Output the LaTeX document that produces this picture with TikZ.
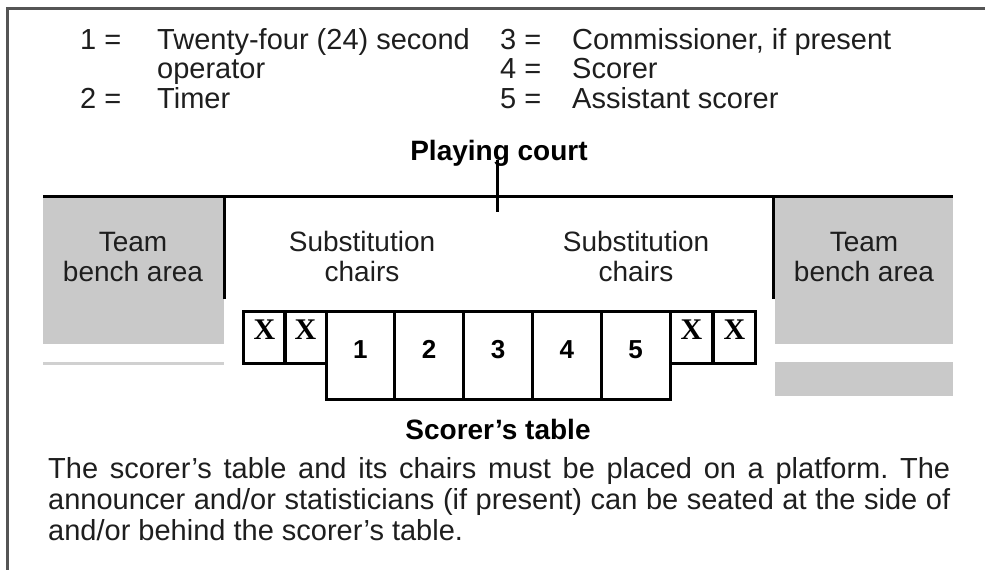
\documentclass[tikz,border=0pt]{standalone}
\usepackage{fontspec}
\setmainfont{Liberation Sans}
\newfontfamily\xserif{Liberation Serif}
\definecolor{benchgray}{HTML}{C9C9C9}
\definecolor{lightline}{HTML}{D0D0D0}
\definecolor{framegray}{HTML}{555555}
\definecolor{inkcol}{HTML}{1E1E1E}
\frenchspacing
\begin{document}
\begin{tikzpicture}[x=1pt,y=-1pt,
  legendtxt/.style={anchor=base west, inner sep=0, text=inkcol, font=\fontsize{29}{34}\selectfont},
  arealbl/.style={anchor=base, inner sep=0, text=inkcol, font=\fontsize{28}{30}\selectfont},
  titlelbl/.style={anchor=base, inner sep=0, text=black, font=\fontsize{28}{30}\selectfont\bfseries},
  numlbl/.style={anchor=base, inner sep=0, text=black, font=\fontsize{26}{28}\selectfont\bfseries},
  xlbl/.style={anchor=base, inner sep=0, text=black, font=\fontsize{30}{30}\xserif\bfseries},
  bodytxt/.style={anchor=base west, inner sep=0, text=inkcol, font=\fontsize{29}{31}\selectfont},
  thick line/.style={line width=3pt, black},
  tablecell/.style={draw=black, line width=3pt, minimum width=68.8pt, minimum height=88pt, inner sep=0, outer sep=0},
  xcell/.style={draw=black, line width=3pt, minimum width=41.5pt, minimum height=52pt, inner sep=0, outer sep=0}
]
\useasboundingbox (0,0) rectangle (985,570);
\fill[white] (0,0) rectangle (985,570);
% frame
\draw[framegray, line width=3pt] (7,570) -- (7,8.5) -- (985,8.5);

% legend
\node[legendtxt] (l1n) at (80,49) {1 =};
\node[legendtxt] (l1t) at (157,49) {Twenty-four (24) second};
\node[legendtxt] (l1b) at (157,78) {operator};
\node[legendtxt] (l2n) at (80,108) {2 =};
\node[legendtxt] (l2t) at (157,108) {Timer};
\node[legendtxt] (l3n) at (500,49) {3 =};
\node[legendtxt] (l3t) at (572,49) {Commissioner, if present};
\node[legendtxt] (l4n) at (500,78) {4 =};
\node[legendtxt] (l4t) at (572,78) {Scorer};
\node[legendtxt] (l5n) at (500,108) {5 =};
\node[legendtxt] (l5t) at (572,108) {Assistant scorer};

% bench areas
\fill[benchgray] (43,198) rectangle (224,344);
\fill[lightline] (43,361.5) rectangle (224,364.5);
\fill[benchgray] (775,198) rectangle (953,344);
\fill[benchgray] (775,362) rectangle (953,396);

% title
\node[titlelbl] (court) at (499,160) {Playing court};

% court line and dividers
\coordinate (cl) at (43,196.5);
\coordinate (cr) at (953,196.5);
\coordinate (tt) at (497,160);
\coordinate (tb) at (497,212);
\coordinate (dlt) at (224,196.5);
\coordinate (dlb) at (224,299);
\coordinate (drt) at (773,196.5);
\coordinate (drb) at (773,299);
\draw[thick line] (cl) -- (cr);
\draw[thick line] (tt) -- (tb);
\draw[thick line] (dlt) -- (dlb);
\draw[thick line] (drt) -- (drb);

% area labels
\node[arealbl] (tbl1) at (133,251) {Team};
\node[arealbl] (tbl2) at (133,281) {bench area};
\node[arealbl] (sl1) at (362,251) {Substitution};
\node[arealbl] (sl2) at (362,281) {chairs};
\node[arealbl] (sr1) at (636,251) {Substitution};
\node[arealbl] (sr2) at (636,281) {chairs};
\node[arealbl] (tbr1) at (864,251) {Team};
\node[arealbl] (tbr2) at (864,281) {bench area};

% scorer's table cells
\node[tablecell] (c1) at (360.4,355) {};
\node[tablecell] (c2) at (429.2,355) {};
\node[tablecell] (c3) at (498.0,355) {};
\node[tablecell] (c4) at (566.8,355) {};
\node[tablecell] (c5) at (635.6,355) {};
\node[xcell] (x1) at (264.5,337) {};
\node[xcell] (x2) at (305.5,337) {};
\node[xcell] (x3) at (691.5,337) {};
\node[xcell] (x4) at (734.5,337) {};

\node[numlbl] (n1) at (360.4,358) {1};
\node[numlbl] (n2) at (429.2,358) {2};
\node[numlbl] (n3) at (498.0,358) {3};
\node[numlbl] (n4) at (566.8,358) {4};
\node[numlbl] (n5) at (635.6,358) {5};
\node[xlbl] (xm1) at (264.5,339) {X};
\node[xlbl] (xm2) at (305.5,339) {X};
\node[xlbl] (xm3) at (691.5,339) {X};
\node[xlbl] (xm4) at (734.5,339) {X};

\node[titlelbl] (stable) at (498,439) {Scorer’s table};

% body text
\node[bodytxt] (b1) at (48,478) {\makebox[902pt][s]{The scorer’s table and its chairs must be placed on a platform. The}};
\node[bodytxt] (b2) at (48,509) {\makebox[902pt][s]{announcer and/or statisticians (if present) can be seated at the side of}};
\node[bodytxt] (b3) at (48,540) {and/or behind the scorer’s table.};
\end{tikzpicture}
\end{document}
